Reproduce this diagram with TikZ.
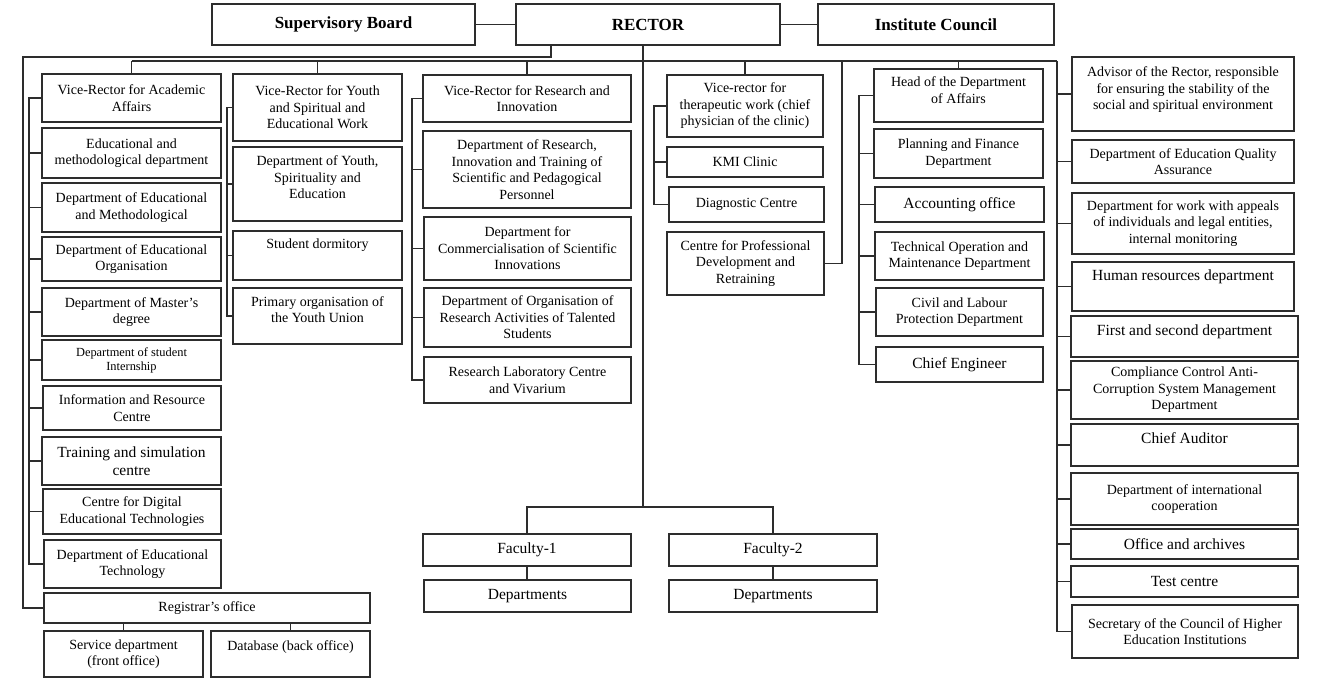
\documentclass[tikz,border=0pt]{standalone}
\usepackage{fontspec}
\setmainfont{Liberation Serif}
\definecolor{lc}{RGB}{45,45,45}
\newcommand\bx[7][]{\node[box,#1,minimum width={(#5)-(#3)},minimum height={(#6)-(#4)}] (#2) at ({((#3)+(#5))/2},{((#4)+(#6))/2}) {#7};}
\newcommand\ups[1]{\\[#1]\mbox{}}
\tikzset{
  box/.style={draw=lc, line width=1.2pt, fill=white, inner sep=1pt, outer sep=0pt, align=center,
              font=\fontsize{14}{16.5}\selectfont, text=black},
  big/.style={font=\fontsize{15.5}{18}\selectfont},
  small/.style={font=\fontsize{12.4}{14}\selectfont},
  head/.style={font=\fontsize{17}{20}\selectfont\bfseries},
  wire/.style={draw=lc, line width=1.2pt},
}
\begin{document}
\begin{tikzpicture}[x=1pt,y=-1pt]
\fill[white] (0,0) rectangle (1320,680);
\useasboundingbox (0,0) rectangle (1320,680);

% top row
\bx[head]{sb}{212}{4}{475}{45}{Supervisory Board}
\bx[head]{rector}{516}{4}{780}{45}{RECTOR}
\bx[head]{ic}{818}{4}{1054}{45}{Institute Council}

% column A
\bx{vra}{42}{74}{221}{122}{Vice-Rector for Academic\\Affairs}
\bx{a1}{42}{128}{221}{178}{Educational and\\methodological department}
\bx{a2}{42}{183}{221}{232}{Department of Educational\\and Methodological}
\bx{a3}{42}{237}{221}{281}{Department of Educational\\Organisation}
\bx{a4}{42}{288}{221}{336}{Department of Master’s\\degree}
\bx[small]{a5}{42}{340}{221}{380}{Department of student\\Internship}
\bx{a6}{43}{386}{221}{430}{Information and Resource\\Centre}
\bx[big]{a7}{42}{437}{221}{485}{Training and simulation\\centre}
\bx{a8}{43}{489}{221}{534}{Centre for Digital\\Educational Technologies}
\bx{a9}{44}{540}{221}{588}{Department of Educational\\Technology}

% registrar
\bx{reg}{44}{593}{370}{623}{Registrar's office}
\bx{sd}{44}{631}{203}{677}{Service department\\(front office)}
\bx{db}{211}{631}{370}{677}{Database (back office)\ups{0.5pt}}

% column Y
\bx{vry}{233}{74}{402}{141}{Vice-Rector for Youth\\and Spiritual and\\Educational Work}
\bx{y1}{233}{147}{402}{221}{Department of Youth,\\Spirituality and\\Education\ups{-3.5pt}}
\bx{y2}{233}{231}{402}{280}{Student dormitory\ups{6.5pt}}
\bx{y3}{233}{288}{402}{344}{Primary organisation of\\the Youth Union\ups{-3.5pt}}

% column R
\bx{vrr}{423}{75}{631}{122}{Vice-Rector for Research and\\Innovation}
\bx{r1}{423}{131}{631}{208}{Department of Research,\\Innovation and Training of\\Scientific and Pedagogical\\Personnel}
\bx{r2}{424}{217}{631}{280}{Department for\\Commercialisation of Scientific\\Innovations}
\bx{r3}{424}{288}{631}{347}{Department of Organisation of\\Research Activities of Talented\\Students}
\bx{r4}{424}{357}{631}{403}{Research Laboratory Centre\\and Vivarium}

% column C
\bx{vrc}{667}{75}{823}{137}{Vice-rector for\\therapeutic work (chief\\physician of the clinic)}
\bx{c1}{667}{147}{823}{177}{KMI Clinic}
\bx{c2}{669}{187}{824}{222}{Diagnostic Centre}
\bx{c3}{667}{232}{824}{295}{Centre for Professional\\Development and\\Retraining}

% faculties
\bx[big]{f1}{423}{534}{631}{566}{Faculty-1}
\bx[big]{d1}{424}{580}{631}{612}{Departments}
\bx[big]{f2}{669}{534}{877}{566}{Faculty-2}
\bx[big]{d2}{669}{580}{877}{612}{Departments}

% column H
\bx{hd}{874}{69}{1043}{122}{Head of the Department\\of Affairs\ups{-5.5pt}}
\bx{h1}{874}{129}{1043}{178}{Planning and Finance\\Department}
\bx[big]{h2}{875}{187}{1044}{222}{Accounting office}
\bx{h3}{875}{232}{1044}{280}{Technical Operation and\\Maintenance Department}
\bx{h4}{876}{288}{1043}{336}{Civil and Labour\\Protection Department}
\bx[big]{h5}{876}{347}{1043}{382}{Chief Engineer}

% right column
\bx{adv}{1072}{57}{1294}{131}{Advisor of the Rector, responsible\\for ensuring the stability of the\\social and spiritual environment\ups{-5.5pt}}
\bx{q1}{1072}{140}{1294}{183}{Department of Education Quality\\Assurance}
\bx{q2}{1072}{193}{1294}{254}{Department for work with appeals\\of individuals and legal entities,\\internal monitoring}
\bx[big]{q3}{1072}{262}{1294}{311}{Human resources department\ups{4.5pt}}
\bx[big]{q4}{1071}{316}{1298}{357}{First and second department\ups{-5.5pt}}
\bx{q5}{1071}{361}{1298}{419}{Compliance Control Anti-\\Corruption System Management\\Department}
\bx[big]{q6}{1071}{424}{1298}{466}{Chief Auditor\ups{-3.5pt}}
\bx{q7}{1071}{473}{1298}{525}{Department of international\\cooperation}
\bx[big]{q8}{1071}{529}{1298}{559}{Office and archives}
\bx[big]{q9}{1071}{566}{1298}{597}{Test centre}
\bx{q10}{1072}{605}{1298}{658}{Secretary of the Council of Higher\\Education Institutions}

% spine coordinates
\coordinate (spA) at (29,0);
\coordinate (spY) at (227,0);
\coordinate (spR) at (412,0);
\coordinate (spC) at (654,0);
\coordinate (spH) at (859,0);
\coordinate (busL) at (131.5,61);
\coordinate (busR) at (1057,61);

% top connectors
\draw[wire] (sb.east) -- (rector.west);
\draw[wire] (rector.east) -- (ic.west);
\draw[wire] ([xshift=-97pt]rector.south) -- ++(0,12) -| ([xshift=-21pt]reg.west) -- (reg.west);
\draw[wire] (busL) -- (busR);
\draw[wire] ([xshift=-5pt]rector.south) -- ++(0,462) coordinate (fj);
\draw[wire] (f1.north) -- (f1.north |- fj) -- (f2.north |- fj) -- (f2.north);
\draw[wire] (f1.south) -- (f1.south |- d1.north);
\draw[wire] (f2.south) -- (f2.south |- d2.north);
\foreach \n in {vra,vry,vrr,vrc,hd} \draw[wire] (\n.north) -- (\n.north |- busL);

% column A
\draw[wire] (vra.west) -| (spA |- a9.west) -- (a9.west);
\foreach \n in {a1,a2,a3,a4,a5,a6,a7,a8} \draw[wire] (\n.west) -- (\n.west -| spA);
% registrar
\draw[wire] (sd.north) -- (sd.north |- reg.south);
\draw[wire] (db.north) -- (db.north |- reg.south);
% column Y
\draw[wire] (vry.west) -| (spY |- y3.west) -- (y3.west);
\foreach \n in {y1,y2} \draw[wire] (\n.west) -- (\n.west -| spY);
% column R
\draw[wire] (vrr.west) -| (spR |- r4.west) -- (r4.west);
\foreach \n in {r1,r2,r3} \draw[wire] (\n.west) -- (\n.west -| spR);
% column C
\draw[wire] (vrc.west) -| (spC |- c2.west) -- (c2.west);
\draw[wire] (c1.west) -- (c1.west -| spC);
\draw[wire] (c3.east) -- ++(18,0) coordinate (cj) -- (cj |- busL);
% column H
\draw[wire] (hd.west) -| (spH |- h5.west) -- (h5.west);
\foreach \n in {h1,h2,h3,h4} \draw[wire] (\n.west) -- (\n.west -| spH);
% right column
\draw[wire] (busR) |- (q10.west);
\foreach \n in {adv,q1,q2,q3,q4,q5,q6,q7,q8,q9} \draw[wire] (\n.west) -- (\n.west -| busR);
\end{tikzpicture}
\end{document}
